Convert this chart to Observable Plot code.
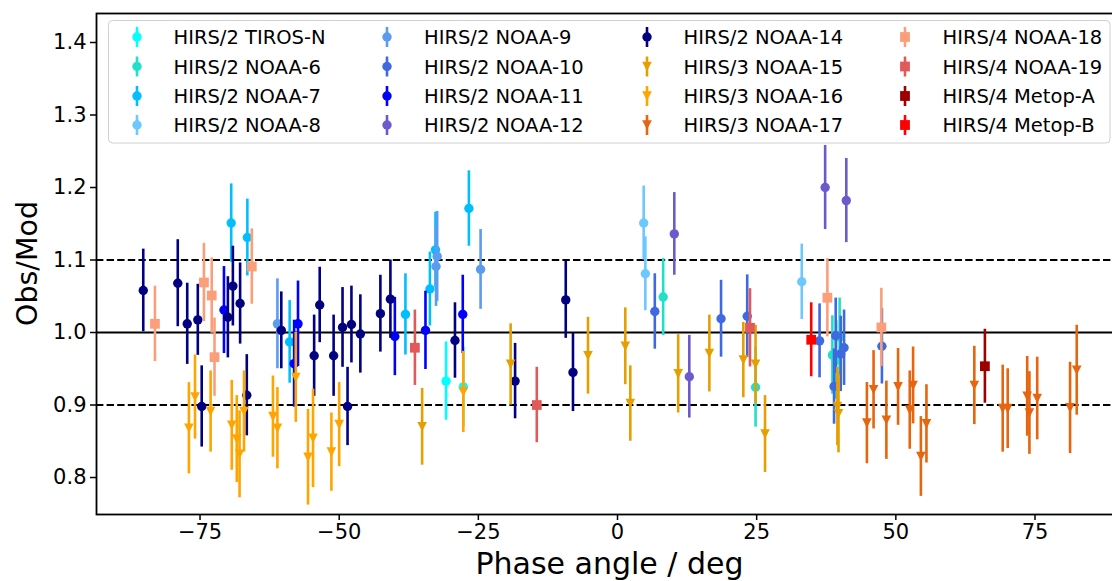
<!DOCTYPE html>
<html><head><meta charset="utf-8">
<script src="https://cdn.jsdelivr.net/npm/d3@7"></script>
<script src="https://cdn.jsdelivr.net/npm/@observablehq/plot@0.6"></script>
<style>
html,body{margin:0;padding:0;background:#fff;overflow:hidden;}
#wrap{position:relative;width:1112px;height:581px;overflow:hidden;font-family:"DejaVu Sans",sans-serif;}
#wrap svg{position:absolute;left:0;top:0;max-width:none !important;}
</style></head><body><div id="wrap"></div>
<script>
// ---- data: [phase angle (deg), Obs/Mod, error] ----
const tirosN = [[-30.8,0.933,0.054],[-27.7,0.925,0.055]];
const noaa6  = [[8.2,1.049,0.053],[24.8,0.9245,0.055],[38.6,0.969,0.054],[39.3,0.962,0.054],[39.9,0.9935,0.054]];
const noaa7  = [[-69.4,1.151,0.054],[-66.5,1.131,0.053],[-58.9,0.987,0.057],[-38.1,1.025,0.056],[-33.7,1.060,0.051],[-32.7,1.114,0.052],[-26.7,1.171,0.052]];
const noaa8  = [[4.7,1.151,0.051],[5.0,1.081,0.051],[33.1,1.070,0.052]];
const noaa9  = [[-61.1,1.012,0.062],[-32.4,1.105,0.062],[-32.6,1.091,0.055],[-24.6,1.087,0.055]];
const noaa10 = [[6.7,1.029,0.052],[18.6,1.019,0.053],[23.3,1.0225,0.057],[36.3,0.9885,0.051],[38.9,0.9255,0.052],[39.2,0.9955,0.052],[40.1,0.9705,0.052],[40.7,0.979,0.052],[47.5,0.981,0.052]];
const noaa11 = [[-70.7,1.031,0.060],[-58.1,0.957,0.060],[-57.4,1.012,0.059],[-40.0,0.9945,0.054],[-34.5,1.003,0.054],[-27.8,1.025,0.054]];
const noaa12 = [[10.2,1.136,0.057],[12.9,0.939,0.057],[37.3,1.200,0.058],[41.1,1.182,0.058]];
const noaa14 = [[-85.2,1.058,0.057],[-79.0,1.068,0.060],[-77.3,1.012,0.056],[-75.4,1.0175,0.049],[-74.7,0.898,0.056],[-70.0,1.021,0.056],[-69.1,1.064,0.055],[-67.8,1.040,0.056],[-66.6,0.9135,0.056],[-60.4,1.003,0.053],[-54.5,0.968,0.056],[-53.5,1.038,0.052],[-51.0,0.968,0.056],[-49.4,1.007,0.055],[-48.5,0.898,0.054],[-47.8,1.011,0.053],[-46.2,0.998,0.054],[-42.6,1.026,0.053],[-40.8,1.046,0.054],[-29.2,0.989,0.052],[-18.4,0.933,0.052],[-9.3,1.045,0.053],[-8.0,0.945,0.054]];
const noaa15 = [[-35.1,0.870,0.053],[-19.2,0.956,0.056],[-5.3,0.968,0.053],[1.4,0.981,0.053],[2.3,0.902,0.052],[10.9,0.943,0.054],[16.5,0.971,0.053],[22.6,0.962,0.052],[24.8,0.956,0.054],[26.5,0.860,0.053],[39.5,0.898,0.054],[39.7,0.888,0.054]];
const noaa16 = [[-77.0,0.868,0.063],[-75.9,0.911,0.058],[-73.1,0.891,0.056],[-69.3,0.872,0.062],[-68.4,0.853,0.060],[-67.9,0.832,0.060],[-67.1,0.891,0.056],[-61.9,0.884,0.056],[-61.1,0.868,0.056],[-57.8,0.938,0.062],[-55.6,0.828,0.066],[-54.7,0.854,0.068],[-51.4,0.835,0.054],[-50.0,0.873,0.058],[-27.7,0.918,0.056]];
const noaa17 = [[44.8,0.875,0.056],[46.0,0.921,0.054],[48.3,0.879,0.054],[50.4,0.925,0.053],[52.5,0.893,0.054],[53.1,0.927,0.053],[54.5,0.829,0.055],[55.5,0.874,0.054],[64.1,0.927,0.054],[69.2,0.895,0.060],[70.1,0.895,0.055],[73.6,0.912,0.055],[74.0,0.889,0.057],[75.4,0.909,0.057],[81.3,0.896,0.063],[82.5,0.948,0.062]];
const noaa18 = [[-83.1,1.012,0.052],[-74.3,1.069,0.054],[-72.9,1.051,0.052],[-72.4,0.966,0.054],[-65.7,1.091,0.052],[37.7,1.048,0.054],[47.4,1.007,0.054]];
const noaa19 = [[-36.4,0.979,0.052],[-14.5,0.900,0.052],[23.8,1.0065,0.054]];
const metopA = [[66.0,0.9535,0.051]];
const metopB = [[34.8,0.990,0.051]];

const seriesNames = ["HIRS/2 TIROS-N","HIRS/2 NOAA-6","HIRS/2 NOAA-7","HIRS/2 NOAA-8","HIRS/2 NOAA-9","HIRS/2 NOAA-10","HIRS/2 NOAA-11","HIRS/2 NOAA-12","HIRS/2 NOAA-14","HIRS/3 NOAA-15","HIRS/3 NOAA-16","HIRS/3 NOAA-17","HIRS/4 NOAA-18","HIRS/4 NOAA-19","HIRS/4 Metop-A","HIRS/4 Metop-B"];
const seriesData = [tirosN,noaa6,noaa7,noaa8,noaa9,noaa10,noaa11,noaa12,noaa14,noaa15,noaa16,noaa17,noaa18,noaa19,metopA,metopB];
const seriesColors = ["#00ffff","#22dfc9","#00bfff","#6cc8ff","#5b9bf0","#3f69e0","#0000ff","#6a5acd","#000080","#e69f00","#ffa500","#e6650e","#fa9f7a","#e05a5a","#9e0000","#ff0000"];
const seriesMarkers = ["o","o","o","o","o","o","o","o","o","v","v","v","s","s","s","s"];
const xTicks = [-75,-50,-25,0,25,50,75];
const yTicks = [0.8,0.9,1.0,1.1,1.2,1.3,1.4];
const refLine = [1.0];
const bandLines = [0.9,1.1];

// ---- marker shapes ----
const triDown = {draw(ctx, size){const r=Math.sqrt(size/Math.PI);ctx.moveTo(-r,-r);ctx.lineTo(r,-r);ctx.lineTo(0,r);ctx.closePath();}};
const markerSpec = {
  o: {symbol:"circle", r:4.7},
  v: {symbol:triDown, r:4.8},
  s: {symbol:"square", r:5.5}
};

const marks = [
  Plot.ruleY(refLine, {stroke:"black", strokeWidth:2}),
  Plot.ruleY(bandLines, {stroke:"black", strokeWidth:2, strokeDasharray:"7.4,3.2"})
];
seriesData.forEach((arr, i) => {
  const rows = arr.map(([x,y,e]) => ({x, y, e}));
  const m = markerSpec[seriesMarkers[i]];
  marks.push(Plot.ruleX(rows, {x:"x", y1:d=>d.y-d.e, y2:d=>d.y+d.e, stroke:seriesColors[i], strokeWidth:2.6}));
  marks.push(Plot.dot(rows, {x:"x", y:"y", fill:seriesColors[i], stroke:"none", r:m.r, symbol:m.symbol}));
});
marks.push(Plot.axisX({ticks:xTicks, tickSize:6, tickPadding:4, fontSize:21, strokeWidth:1.5, label:null,
  tickFormat:d=> d<0 ? "\u2212"+(-d) : String(d)}));
marks.push(Plot.axisY({ticks:yTicks, tickSize:6, tickPadding:4, fontSize:21, strokeWidth:1.5, label:null,
  tickFormat:d3.format(".1f")}));
marks.push(Plot.frame({stroke:"black", strokeWidth:1.8}));

const chart = Plot.plot({
  width:1125, height:581,
  marginTop:13, marginBottom:67, marginLeft:96, marginRight:2,
  x:{domain:[-93.6,90.9]},
  y:{domain:[0.749,1.44]},
  style:{fontFamily:"DejaVu Sans, sans-serif", color:"black", background:"white", overflow:"visible", maxWidth:"none"},
  marks
});
chart.style.maxWidth = "none";
const wrap = document.getElementById("wrap");
wrap.appendChild(chart);

// ---- overlay: axis titles and legend ----
const ov = d3.select(wrap).append("svg").attr("width",1112).attr("height",581)
  .style("font-family","DejaVu Sans, sans-serif").style("pointer-events","none");
ov.append("text").attr("x",609.5).attr("y",574).attr("text-anchor","middle")
  .attr("font-size",30).attr("fill","black").text("Phase angle / deg");
ov.append("text").attr("transform","translate(37,263.5) rotate(-90)").attr("text-anchor","middle")
  .attr("font-size",28.5).attr("fill","black").text("Obs/Mod");

ov.append("rect").attr("x",108.5).attr("y",20.5).attr("width",1001.5).attr("height",122.5)
  .attr("rx",4).attr("fill","white").attr("fill-opacity",0.8).attr("stroke","#d0d0d0").attr("stroke-width",1);
const colMarkX = [137,387,647,905];
const colTextX = [173.5,424,683.5,942.5];
const rowY = [37,66.5,96,125];
seriesNames.forEach((name, i) => {
  const c = Math.floor(i/4), r = i%4;
  const mx = colMarkX[c], my = rowY[r], col = seriesColors[i];
  ov.append("line").attr("x1",mx).attr("x2",mx).attr("y1",my-10).attr("y2",my+10)
    .attr("stroke",col).attr("stroke-width",2.6);
  const mk = seriesMarkers[i];
  if (mk === "o") ov.append("circle").attr("cx",mx).attr("cy",my).attr("r",4.7).attr("fill",col);
  else if (mk === "s") ov.append("rect").attr("x",mx-4.9).attr("y",my-4.9).attr("width",9.8).attr("height",9.8).attr("fill",col);
  else ov.append("path").attr("d",`M${mx-4.8},${my-4.8}L${mx+4.8},${my-4.8}L${mx},${my+4.8}Z`).attr("fill",col);
  ov.append("text").attr("x",colTextX[c]).attr("y",my+7).attr("font-size",19.5).attr("fill","black").text(name);
});
</script></body></html>
